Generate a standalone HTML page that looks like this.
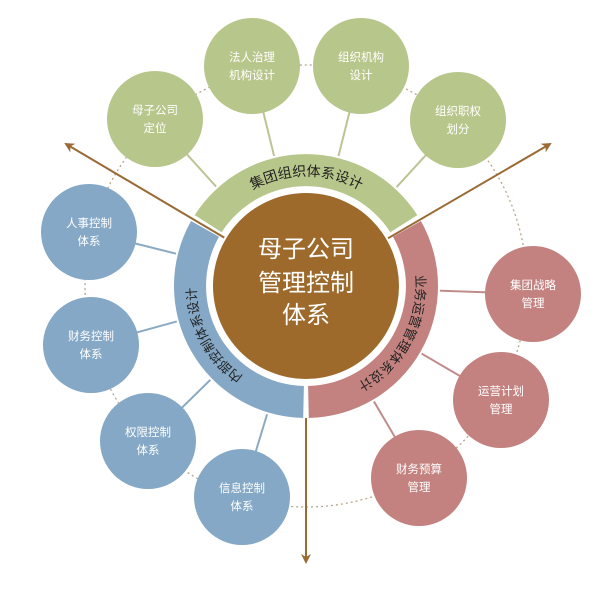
<!DOCTYPE html>
<html><head><meta charset="utf-8"><style>
html,body{margin:0;padding:0;background:#fff;}
svg{display:block;font-family:"Liberation Sans","Noto Sans CJK SC",sans-serif;}
.s{fill:#fff;font-size:11.5px;text-anchor:middle;}
</style></head><body>
<svg width="605" height="608" viewBox="0 0 605 608">
<defs>
<marker id="ah" markerWidth="10" markerHeight="10" refX="8" refY="5" orient="auto" markerUnits="userSpaceOnUse">
<path d="M0,0 L10,5 L0,10 L3,5 Z" fill="#9A6A34"/></marker>
<path id="tp" d="M306,396 A110,110 0 1 1 306,176 A110,110 0 1 1 306,396"/>
</defs>
<circle cx="306" cy="286" r="221" fill="none" stroke="#B8A68C" stroke-width="1.3" stroke-dasharray="2 3"/>
<g stroke-width="2">
<g stroke="#BCC494">
<line x1="306" y1="286" x2="155" y2="119"/><line x1="306" y1="286" x2="252" y2="66"/>
<line x1="306" y1="286" x2="361" y2="66"/><line x1="306" y1="286" x2="458" y2="120"/></g>
<g stroke="#8AAAC4">
<line x1="306" y1="286" x2="89" y2="232"/><line x1="306" y1="286" x2="91" y2="345"/>
<line x1="306" y1="286" x2="148" y2="441"/><line x1="306" y1="286" x2="242" y2="497"/></g>
<g stroke="#C08C8A">
<line x1="306" y1="286" x2="533" y2="294"/><line x1="306" y1="286" x2="501" y2="400"/>
<line x1="306" y1="286" x2="419" y2="478"/></g>
</g>
<circle cx="306" cy="286" r="134" fill="#fff"/>
<path d="M194.7,215.1 A132,132 0 0 1 417.3,215.1 L390.3,232.3 A100,100 0 0 0 221.7,232.3 Z" fill="#B7C68A"/>
<path d="M303.2,418 A132,132 0 0 1 191.1,221 L219,236.8 A100,100 0 0 0 303.9,386 Z" fill="#84A8C5"/>
<path d="M420.9,221 A132,132 0 0 1 308.8,418 L308.1,386 A100,100 0 0 0 393,236.8 Z" fill="#C3827F"/>
<g stroke="#9A6A34" stroke-width="2" marker-end="url(#ah)">
<line x1="306" y1="286" x2="66" y2="144"/>
<line x1="306" y1="286" x2="550" y2="144"/>
<line x1="306" y1="418" x2="306" y2="562"/>
</g>
<circle cx="306" cy="286" r="95" fill="#fff"/>
<circle cx="306" cy="286" r="93" fill="#9D6A2C"/>
<g font-size="14" fill="#222">
<text><textPath href="#tp" startOffset="345.6" text-anchor="middle">集团组织体系设计</textPath></text>
<text font-size="13"><textPath href="#tp" startOffset="119" text-anchor="middle">内部控制体系设计</textPath></text>
<text font-size="13"><textPath href="#tp" startOffset="572" text-anchor="middle">业务运营管理体系设计</textPath></text>
</g>
<g fill="#fff" font-size="24" text-anchor="middle">
<text x="306" y="257">母子公司</text>
<text x="306" y="291">管理控制</text>
<text x="306" y="323">体系</text>
</g>
<g fill="#B7C68A">
<circle cx="155" cy="119" r="48"/><circle cx="252" cy="66" r="48"/>
<circle cx="361" cy="66" r="48"/><circle cx="458" cy="120" r="48"/></g>
<g fill="#84A8C5">
<circle cx="89" cy="232" r="48"/><circle cx="91" cy="345" r="48"/>
<circle cx="148" cy="441" r="48"/><circle cx="242" cy="497" r="48"/></g>
<g fill="#C3827F">
<circle cx="533" cy="294" r="48"/><circle cx="501" cy="400" r="48"/>
<circle cx="419" cy="478" r="48"/></g>
<g class="s">
<text x="155" y="114">母子公司</text><text x="155" y="132">定位</text>
<text x="252" y="61">法人治理</text><text x="252" y="79">机构设计</text>
<text x="361" y="61">组织机构</text><text x="361" y="79">设计</text>
<text x="458" y="115">组织职权</text><text x="458" y="133">划分</text>
<text x="89" y="227">人事控制</text><text x="89" y="245">体系</text>
<text x="91" y="340">财务控制</text><text x="91" y="358">体系</text>
<text x="148" y="436">权限控制</text><text x="148" y="454">体系</text>
<text x="242" y="492">信息控制</text><text x="242" y="510">体系</text>
<text x="533" y="289">集团战略</text><text x="533" y="307">管理</text>
<text x="501" y="395">运营计划</text><text x="501" y="413">管理</text>
<text x="419" y="473">财务预算</text><text x="419" y="491">管理</text>
</g>
</svg>
</body></html>
